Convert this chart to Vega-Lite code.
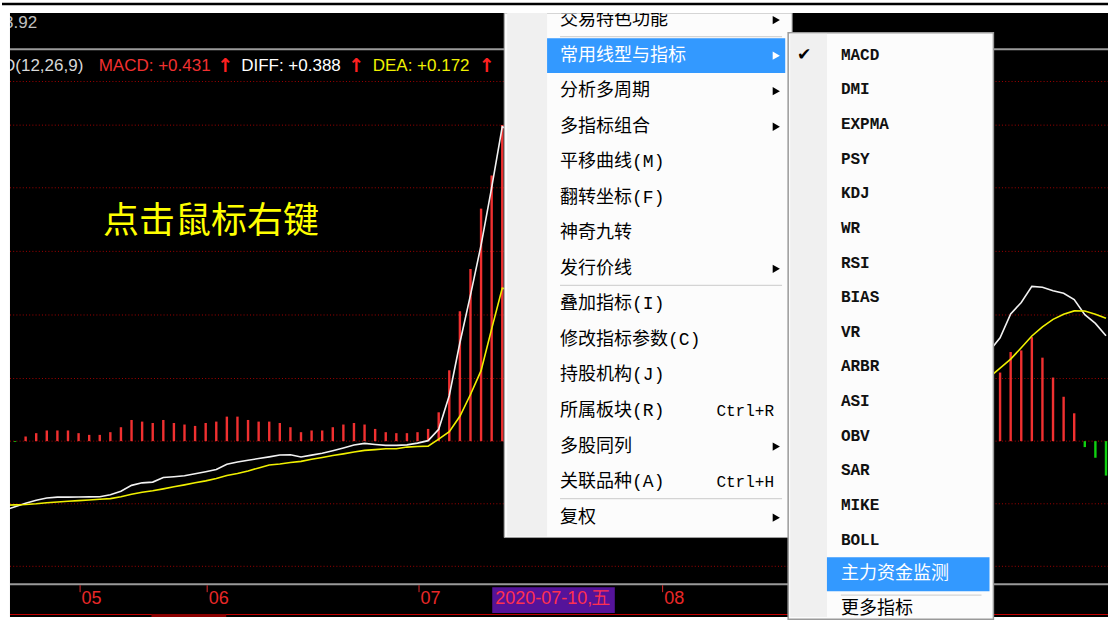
{
  "$schema": "https://vega.github.io/schema/vega-lite/v6.json",
  "width": 1110,
  "height": 621,
  "autosize": {"type": "fit", "contains": "padding"},
  "padding": 0,
  "background": "#ffffff",
  "config": {"view": {"stroke": null, "fill": "#000000"}, "axis": {"disable": true}, "text": {"font": "Liberation Sans"}},
  "datasets": {
    "macd": [
      {"i": -2, "macd": -0.001, "diff": -0.0848, "dea": -0.0787},
      {"i": -1, "macd": -0.001, "diff": -0.0805, "dea": -0.0783},
      {"i": 0, "macd": 0.0057, "diff": -0.0763, "dea": -0.0778},
      {"i": 1, "macd": 0.0098, "diff": -0.0726, "dea": -0.0769},
      {"i": 2, "macd": 0.0131, "diff": -0.0699, "dea": -0.0756},
      {"i": 3, "macd": 0.0131, "diff": -0.0687, "dea": -0.0748},
      {"i": 4, "macd": 0.0131, "diff": -0.0687, "dea": -0.0738},
      {"i": 5, "macd": 0.0098, "diff": -0.0686, "dea": -0.073},
      {"i": 6, "macd": 0.0077, "diff": -0.0684, "dea": -0.0722},
      {"i": 7, "macd": 0.0077, "diff": -0.0683, "dea": -0.0714},
      {"i": 8, "macd": 0.011, "diff": -0.0659, "dea": -0.0706},
      {"i": 9, "macd": 0.0171, "diff": -0.0616, "dea": -0.0683},
      {"i": 10, "macd": 0.026, "diff": -0.0543, "dea": -0.0653},
      {"i": 11, "macd": 0.024, "diff": -0.0512, "dea": -0.0628},
      {"i": 12, "macd": 0.0223, "diff": -0.0503, "dea": -0.061},
      {"i": 13, "macd": 0.026, "diff": -0.0447, "dea": -0.0586},
      {"i": 14, "macd": 0.0223, "diff": -0.0437, "dea": -0.0561},
      {"i": 15, "macd": 0.0204, "diff": -0.0425, "dea": -0.0537},
      {"i": 16, "macd": 0.0187, "diff": -0.04, "dea": -0.0512},
      {"i": 17, "macd": 0.0223, "diff": -0.0375, "dea": -0.0488},
      {"i": 18, "macd": 0.024, "diff": -0.0348, "dea": -0.0458},
      {"i": 19, "macd": 0.0301, "diff": -0.0284, "dea": -0.0421},
      {"i": 20, "macd": 0.0301, "diff": -0.0256, "dea": -0.0397},
      {"i": 21, "macd": 0.026, "diff": -0.0234, "dea": -0.0366},
      {"i": 22, "macd": 0.024, "diff": -0.0214, "dea": -0.0329},
      {"i": 23, "macd": 0.024, "diff": -0.0193, "dea": -0.0293},
      {"i": 24, "macd": 0.0223, "diff": -0.017, "dea": -0.0281},
      {"i": 25, "macd": 0.0171, "diff": -0.0167, "dea": -0.0262},
      {"i": 26, "macd": 0.011, "diff": -0.0195, "dea": -0.0248},
      {"i": 27, "macd": 0.0131, "diff": -0.0172, "dea": -0.0223},
      {"i": 28, "macd": 0.0131, "diff": -0.0148, "dea": -0.0201},
      {"i": 29, "macd": 0.0171, "diff": -0.0117, "dea": -0.0177},
      {"i": 30, "macd": 0.0204, "diff": -0.0084, "dea": -0.0156},
      {"i": 31, "macd": 0.0223, "diff": -0.0048, "dea": -0.0134},
      {"i": 32, "macd": 0.0204, "diff": -0.0028, "dea": -0.0113},
      {"i": 33, "macd": 0.015, "diff": -0.0041, "dea": -0.0104},
      {"i": 34, "macd": 0.011, "diff": -0.0052, "dea": -0.0094},
      {"i": 35, "macd": 0.0098, "diff": -0.0052, "dea": -0.0094},
      {"i": 36, "macd": 0.0098, "diff": -0.0046, "dea": -0.0073},
      {"i": 37, "macd": 0.011, "diff": -0.0024, "dea": -0.0065},
      {"i": 38, "macd": 0.015, "diff": 0.0006, "dea": -0.0061},
      {"i": 39, "macd": 0.0354, "diff": 0.0146, "dea": 0.0024},
      {"i": 40, "macd": 0.087, "diff": 0.0561, "dea": 0.0116},
      {"i": 41, "macd": 0.1595, "diff": 0.1208, "dea": 0.0305},
      {"i": 42, "macd": 0.2114, "diff": 0.1793, "dea": 0.0573},
      {"i": 43, "macd": 0.2855, "diff": 0.2407, "dea": 0.0866},
      {"i": 44, "macd": 0.3261, "diff": 0.3112, "dea": 0.1379},
      {"i": 45, "macd": 0.3883, "diff": 0.3861, "dea": 0.1879},
      {"i": 91, "macd": 0.065, "diff": 0.1107, "dea": 0.0787},
      {"i": 92, "macd": 0.0842, "diff": 0.1269, "dea": 0.0897},
      {"i": 93, "macd": 0.1094, "diff": 0.1562, "dea": 0.1007},
      {"i": 94, "macd": 0.1114, "diff": 0.1702, "dea": 0.1147},
      {"i": 95, "macd": 0.1277, "diff": 0.19, "dea": 0.1291},
      {"i": 96, "macd": 0.1025, "diff": 0.1889, "dea": 0.1404},
      {"i": 97, "macd": 0.0781, "diff": 0.1846, "dea": 0.1495},
      {"i": 98, "macd": 0.0545, "diff": 0.1815, "dea": 0.1558},
      {"i": 99, "macd": 0.0342, "diff": 0.1739, "dea": 0.1599},
      {"i": 100, "macd": -0.0073, "diff": 0.1553, "dea": 0.1598},
      {"i": 101, "macd": -0.0204, "diff": 0.1446, "dea": 0.1557},
      {"i": 102, "macd": -0.0423, "diff": 0.1293, "dea": 0.1509}
    ],
    "grid": [
      {"level": 0.4416}, {"level": 0.388}, {"level": 0.3111}, {"level": 0.233},
      {"level": 0.1549}, {"level": 0.0769}, {"level": 0}, {"level": -0.0769}, {"level": -0.1537}
    ],
    "months": [
      {"i": 5, "label": "05"}, {"i": 17, "label": "06"}, {"i": 37, "label": "07"}, {"i": 60, "label": "08"}
    ],
    "mainMenu": [
      {"row": 0, "label": "交易特色功能", "sub": true},
      {"row": 1, "label": "常用线型与指标", "sub": true, "hl": true},
      {"row": 2, "label": "分析多周期", "sub": true},
      {"row": 3, "label": "多指标组合", "sub": true},
      {"row": 4, "label": "平移曲线(M)"},
      {"row": 5, "label": "翻转坐标(F)"},
      {"row": 6, "label": "神奇九转"},
      {"row": 7, "label": "发行价线", "sub": true},
      {"row": 8, "label": "叠加指标(I)"},
      {"row": 9, "label": "修改指标参数(C)"},
      {"row": 10, "label": "持股机构(J)"},
      {"row": 11, "label": "所属板块(R)", "key": "Ctrl+R"},
      {"row": 12, "label": "多股同列", "sub": true},
      {"row": 13, "label": "关联品种(A)", "key": "Ctrl+H"},
      {"row": 14, "label": "复权", "sub": true}
    ],
    "mainSep": [{"after": 0}, {"after": 7}, {"after": 13}],
    "subMenu": [
      {"row": 0, "label": "MACD", "on": true},
      {"row": 1, "label": "DMI"},
      {"row": 2, "label": "EXPMA"},
      {"row": 3, "label": "PSY"},
      {"row": 4, "label": "KDJ"},
      {"row": 5, "label": "WR"},
      {"row": 6, "label": "RSI"},
      {"row": 7, "label": "BIAS"},
      {"row": 8, "label": "VR"},
      {"row": 9, "label": "ARBR"},
      {"row": 10, "label": "ASI"},
      {"row": 11, "label": "OBV"},
      {"row": 12, "label": "SAR"},
      {"row": 13, "label": "MIKE"},
      {"row": 14, "label": "BOLL"},
      {"row": 15, "label": "主力资金监测", "hl": true},
      {"row": 16, "label": "更多指标"}
    ]
  },
  "resolve": {"scale": {"x": "independent", "y": "independent"}},
  "layer": [
    {
      "layer": [
        {
          "data": {"name": "grid"},
          "mark": {"type": "rule", "color": "#a00000", "strokeWidth": 1, "strokeDash": [1, 2.2]},
          "encoding": {
            "x": {"datum": -1.477, "type": "quantitative", "scale": {"domain": [-2.23, 102.19], "nice": false, "zero": false}},
            "x2": {"datum": 102.19},
            "y": {"field": "level", "type": "quantitative", "scale": {"domain": [-0.21594, 0.54168], "nice": false, "zero": false}}
          }
        },
        {
          "data": {"name": "macd"},
          "mark": {"type": "rule", "strokeWidth": 2.4},
          "encoding": {
            "x": {"field": "i", "type": "quantitative", "scale": {"domain": [-2.23, 102.19], "nice": false, "zero": false}},
            "y": {"field": "macd", "type": "quantitative", "scale": {"domain": [-0.21594, 0.54168], "nice": false, "zero": false}},
            "y2": {"datum": 0},
            "color": {"condition": {"test": "datum.macd < 0", "value": "#10d010"}, "value": "#f03030"}
          }
        },
        {
          "data": {"name": "macd"},
          "mark": {"type": "line", "color": "#f2f2f2", "strokeWidth": 1.6},
          "encoding": {
            "x": {"field": "i", "type": "quantitative", "scale": {"domain": [-2.23, 102.19], "nice": false, "zero": false}},
            "y": {"field": "diff", "type": "quantitative", "scale": {"domain": [-0.21594, 0.54168], "nice": false, "zero": false}}
          }
        },
        {
          "data": {"name": "macd"},
          "mark": {"type": "line", "color": "#f0f000", "strokeWidth": 1.6},
          "encoding": {
            "x": {"field": "i", "type": "quantitative", "scale": {"domain": [-2.23, 102.19], "nice": false, "zero": false}},
            "y": {"field": "dea", "type": "quantitative", "scale": {"domain": [-0.21594, 0.54168], "nice": false, "zero": false}}
          }
        },
        {
          "data": {"values": [{}]},
          "mark": {"type": "rule", "color": "#9a9a9a", "strokeWidth": 2},
          "encoding": {
            "x": {"datum": -1.477, "type": "quantitative", "scale": {"domain": [-2.23, 102.19], "nice": false, "zero": false}},
            "x2": {"datum": 102.19},
            "y": {"datum": 0.4813, "type": "quantitative", "scale": {"domain": [-0.21594, 0.54168], "nice": false, "zero": false}}
          }
        },
        {
          "data": {"values": [{}]},
          "mark": {"type": "rule", "color": "#9a9a9a", "strokeWidth": 2},
          "encoding": {
            "x": {"datum": -1.477, "type": "quantitative", "scale": {"domain": [-2.23, 102.19], "nice": false, "zero": false}},
            "x2": {"datum": 102.19},
            "y": {"datum": -0.1757, "type": "quantitative", "scale": {"domain": [-0.21594, 0.54168], "nice": false, "zero": false}}
          }
        },
        {
          "data": {"values": [{}]},
          "mark": {"type": "text", "align": "left", "baseline": "middle", "font": "Liberation Sans", "fontSize": 17, "color": "#c0c0c0"},
          "encoding": {
            "x": {"datum": -2.041, "type": "quantitative", "scale": {"domain": [-2.23, 102.19], "nice": false, "zero": false}},
            "y": {"datum": 0.513, "type": "quantitative", "scale": {"domain": [-0.21594, 0.54168], "nice": false, "zero": false}},
            "text": {"value": "3.92"}
          }
        },
        {
          "data": {"values": [{}]},
          "mark": {"type": "text", "align": "left", "baseline": "middle", "font": "Liberation Sans", "fontSize": 17, "color": "#d8d8d8"},
          "encoding": {
            "x": {"datum": -2.136, "type": "quantitative", "scale": {"domain": [-2.23, 102.19], "nice": false, "zero": false}},
            "y": {"datum": 0.46116, "type": "quantitative", "scale": {"domain": [-0.21594, 0.54168], "nice": false, "zero": false}},
            "text": {"value": "D(12,26,9)"}
          }
        },
        {
          "data": {"values": [{}]},
          "mark": {"type": "text", "align": "left", "baseline": "middle", "font": "Liberation Sans", "fontSize": 17, "color": "#f03030"},
          "encoding": {
            "x": {"datum": 6.896, "type": "quantitative", "scale": {"domain": [-2.23, 102.19], "nice": false, "zero": false}},
            "y": {"datum": 0.46116, "type": "quantitative", "scale": {"domain": [-0.21594, 0.54168], "nice": false, "zero": false}},
            "text": {"value": "MACD: +0.431"}
          }
        },
        {
          "data": {"values": [{}]},
          "mark": {"type": "text", "align": "left", "baseline": "middle", "font": "Liberation Sans", "fontSize": 17, "color": "#ffffff"},
          "encoding": {
            "x": {"datum": 20.348, "type": "quantitative", "scale": {"domain": [-2.23, 102.19], "nice": false, "zero": false}},
            "y": {"datum": 0.46116, "type": "quantitative", "scale": {"domain": [-0.21594, 0.54168], "nice": false, "zero": false}},
            "text": {"value": "DIFF: +0.388"}
          }
        },
        {
          "data": {"values": [{}]},
          "mark": {"type": "text", "align": "left", "baseline": "middle", "font": "Liberation Sans", "fontSize": 17, "color": "#f0f000"},
          "encoding": {
            "x": {"datum": 32.766, "type": "quantitative", "scale": {"domain": [-2.23, 102.19], "nice": false, "zero": false}},
            "y": {"datum": 0.46116, "type": "quantitative", "scale": {"domain": [-0.21594, 0.54168], "nice": false, "zero": false}},
            "text": {"value": "DEA: +0.172"}
          }
        },
        {
          "data": {"values": [{}]},
          "mark": {"type": "text", "align": "left", "baseline": "middle", "font": "DejaVu Sans", "fontWeight": "bold", "fontSize": 19, "color": "#ff2020"},
          "encoding": {
            "x": {"datum": 18.1, "type": "quantitative", "scale": {"domain": [-2.23, 102.19], "nice": false, "zero": false}},
            "y": {"datum": 0.46116, "type": "quantitative", "scale": {"domain": [-0.21594, 0.54168], "nice": false, "zero": false}},
            "text": {"value": "↑"}
          }
        },
        {
          "data": {"values": [{}]},
          "mark": {"type": "text", "align": "left", "baseline": "middle", "font": "DejaVu Sans", "fontWeight": "bold", "fontSize": 19, "color": "#ff2020"},
          "encoding": {
            "x": {"datum": 30.45, "type": "quantitative", "scale": {"domain": [-2.23, 102.19], "nice": false, "zero": false}},
            "y": {"datum": 0.46116, "type": "quantitative", "scale": {"domain": [-0.21594, 0.54168], "nice": false, "zero": false}},
            "text": {"value": "↑"}
          }
        },
        {
          "data": {"values": [{}]},
          "mark": {"type": "text", "align": "left", "baseline": "middle", "font": "DejaVu Sans", "fontWeight": "bold", "fontSize": 19, "color": "#ff2020"},
          "encoding": {
            "x": {"datum": 42.77, "type": "quantitative", "scale": {"domain": [-2.23, 102.19], "nice": false, "zero": false}},
            "y": {"datum": 0.46116, "type": "quantitative", "scale": {"domain": [-0.21594, 0.54168], "nice": false, "zero": false}},
            "text": {"value": "↑"}
          }
        },
        {
          "data": {"values": [{}]},
          "mark": {"type": "text", "align": "left", "baseline": "middle", "font": "Noto Sans CJK SC", "fontSize": 36, "color": "#ffff00"},
          "encoding": {
            "x": {"datum": 7.3, "type": "quantitative", "scale": {"domain": [-2.23, 102.19], "nice": false, "zero": false}},
            "y": {"datum": 0.2696, "type": "quantitative", "scale": {"domain": [-0.21594, 0.54168], "nice": false, "zero": false}},
            "text": {"value": "点击鼠标右键"}
          }
        },
        {
          "data": {"name": "months"},
          "mark": {"type": "rule", "color": "#e02828", "strokeWidth": 1, "xOffset": 1.5},
          "encoding": {
            "x": {"field": "i", "type": "quantitative", "scale": {"domain": [-2.23, 102.19], "nice": false, "zero": false}},
            "y": {"datum": -0.1769, "type": "quantitative", "scale": {"domain": [-0.21594, 0.54168], "nice": false, "zero": false}},
            "y2": {"datum": -0.18544}
          }
        },
        {
          "data": {"name": "months"},
          "mark": {"type": "text", "align": "left", "baseline": "middle", "dx": 3, "font": "Liberation Sans Narrow, Liberation Sans", "fontSize": 18, "color": "#e82828"},
          "encoding": {
            "x": {"field": "i", "type": "quantitative", "scale": {"domain": [-2.23, 102.19], "nice": false, "zero": false}},
            "y": {"datum": -0.19398, "type": "quantitative", "scale": {"domain": [-0.21594, 0.54168], "nice": false, "zero": false}},
            "text": {"field": "label"}
          }
        },
        {
          "data": {"values": [{}]},
          "mark": {"type": "rect", "color": "#55139a"},
          "encoding": {
            "x": {"datum": 44.055, "type": "quantitative", "scale": {"domain": [-2.23, 102.19], "nice": false, "zero": false}},
            "x2": {"datum": 55.626},
            "y": {"datum": -0.17934, "type": "quantitative", "scale": {"domain": [-0.21594, 0.54168], "nice": false, "zero": false}},
            "y2": {"datum": -0.21106}
          }
        },
        {
          "data": {"values": [{}]},
          "mark": {"type": "text", "align": "left", "baseline": "middle", "font": "Liberation Sans Narrow, Liberation Sans", "fontSize": 18, "color": "#ff3050"},
          "encoding": {
            "x": {"datum": 44.337, "type": "quantitative", "scale": {"domain": [-2.23, 102.19], "nice": false, "zero": false}},
            "y": {"datum": -0.19398, "type": "quantitative", "scale": {"domain": [-0.21594, 0.54168], "nice": false, "zero": false}},
            "text": {"value": "2020-07-10,五"}
          }
        },
        {
          "data": {"values": [{}]},
          "mark": {"type": "rule", "color": "#c00000", "strokeWidth": 1.2},
          "encoding": {
            "x": {"datum": -1.477, "type": "quantitative", "scale": {"domain": [-2.23, 102.19], "nice": false, "zero": false}},
            "x2": {"datum": 102.19},
            "y": {"datum": -0.21289, "type": "quantitative", "scale": {"domain": [-0.21594, 0.54168], "nice": false, "zero": false}}
          }
        },
        {
          "data": {"values": [{}]},
          "mark": {"type": "rect", "color": "#8b0000"},
          "encoding": {
            "x": {"datum": 11.881, "type": "quantitative", "scale": {"domain": [-2.23, 102.19], "nice": false, "zero": false}},
            "x2": {"datum": 18.938},
            "y": {"datum": -0.21228, "type": "quantitative", "scale": {"domain": [-0.21594, 0.54168], "nice": false, "zero": false}},
            "y2": {"datum": -0.21594}
          }
        }
      ]
    },
    {
      "layer": [
        {
          "data": {"values": [{}]},
          "mark": {"type": "rect", "fill": "#fcfcfc", "stroke": "#a0a0a0", "strokeWidth": 1},
          "encoding": {
            "x": {"datum": 0, "type": "quantitative", "scale": {"domain": [-1.744, 2.097], "nice": false, "zero": false}},
            "x2": {"datum": 1},
            "y": {"datum": -0.2018, "type": "quantitative", "scale": {"domain": [-0.5656, 16.796], "nice": false, "zero": false, "reverse": true}},
            "y2": {"datum": 14.56}
          }
        },
        {
          "data": {"values": [{}]},
          "mark": {"type": "rect", "fill": "#f0f0f0"},
          "encoding": {
            "x": {"datum": 0.0104, "type": "quantitative", "scale": {"domain": [-1.744, 2.097], "nice": false, "zero": false}},
            "x2": {"datum": 0.149},
            "y": {"datum": -0.2018, "type": "quantitative", "scale": {"domain": [-0.5656, 16.796], "nice": false, "zero": false, "reverse": true}},
            "y2": {"datum": 14.53}
          }
        },
        {
          "data": {"name": "mainSep"},
          "mark": {"type": "rule", "color": "#d4d4d4", "strokeWidth": 1.2, "yOffset": 16.5},
          "encoding": {
            "x": {"datum": 0.194, "type": "quantitative", "scale": {"domain": [-1.744, 2.097], "nice": false, "zero": false}},
            "x2": {"datum": 0.965},
            "y": {"field": "after", "type": "quantitative", "scale": {"domain": [-0.5656, 16.796], "nice": false, "zero": false, "reverse": true}}
          }
        },
        {
          "data": {"values": [{}]},
          "mark": {"type": "rect", "fill": "#3399ff"},
          "encoding": {
            "x": {"datum": 0.149, "type": "quantitative", "scale": {"domain": [-1.744, 2.097], "nice": false, "zero": false}},
            "x2": {"datum": 0.976},
            "y": {"datum": 0.51, "type": "quantitative", "scale": {"domain": [-0.5656, 16.796], "nice": false, "zero": false, "reverse": true}},
            "y2": {"datum": 1.49}
          }
        },
        {
          "data": {"name": "mainMenu"},
          "mark": {"type": "text", "align": "left", "baseline": "middle", "font": "Liberation Mono, Noto Sans CJK SC", "fontSize": 18},
          "encoding": {
            "x": {"datum": 0.194, "type": "quantitative", "scale": {"domain": [-1.744, 2.097], "nice": false, "zero": false}},
            "y": {"field": "row", "type": "quantitative", "scale": {"domain": [-0.5656, 16.796], "nice": false, "zero": false, "reverse": true}},
            "text": {"field": "label"},
            "color": {"condition": {"test": "datum.hl", "value": "#ffffff"}, "value": "#000000"}
          }
        },
        {
          "data": {"name": "mainMenu"},
          "transform": [{"filter": "datum.key"}],
          "mark": {"type": "text", "align": "left", "baseline": "middle", "font": "Liberation Mono", "fontSize": 16, "color": "#000000"},
          "encoding": {
            "x": {"datum": 0.737, "type": "quantitative", "scale": {"domain": [-1.744, 2.097], "nice": false, "zero": false}},
            "y": {"field": "row", "type": "quantitative", "scale": {"domain": [-0.5656, 16.796], "nice": false, "zero": false, "reverse": true}},
            "text": {"field": "key"}
          }
        },
        {
          "data": {"name": "mainMenu"},
          "transform": [{"filter": "datum.sub"}],
          "mark": {"type": "point", "shape": "triangle-right", "filled": true, "size": 70, "opacity": 1, "strokeWidth": 0},
          "encoding": {
            "x": {"datum": 0.945, "type": "quantitative", "scale": {"domain": [-1.744, 2.097], "nice": false, "zero": false}},
            "y": {"field": "row", "type": "quantitative", "scale": {"domain": [-0.5656, 16.796], "nice": false, "zero": false, "reverse": true}},
            "color": {"condition": {"test": "datum.hl", "value": "#ffffff"}, "value": "#000000"}
          }
        }
      ]
    },
    {
      "layer": [
        {
          "data": {"values": [{}]},
          "mark": {"type": "rect", "fill": "#fcfcfc", "stroke": "#9a9a9a", "strokeWidth": 1.5},
          "encoding": {
            "x": {"datum": 0, "type": "quantitative", "scale": {"domain": [-3.8301, 1.5583], "nice": false, "zero": false}},
            "x2": {"datum": 1},
            "y": {"datum": -0.631, "type": "quantitative", "scale": {"domain": [-1.5773, 16.2323], "nice": false, "zero": false, "reverse": true}},
            "y2": {"datum": 16.3}
          }
        },
        {
          "data": {"values": [{}]},
          "mark": {"type": "rect", "fill": "#f0f0f0"},
          "encoding": {
            "x": {"datum": 0.0097, "type": "quantitative", "scale": {"domain": [-3.8301, 1.5583], "nice": false, "zero": false}},
            "x2": {"datum": 0.189},
            "y": {"datum": -0.6, "type": "quantitative", "scale": {"domain": [-1.5773, 16.2323], "nice": false, "zero": false, "reverse": true}},
            "y2": {"datum": 16.2323}
          }
        },
        {
          "data": {"values": [{}]},
          "mark": {"type": "rect", "fill": "#3399ff"},
          "encoding": {
            "x": {"datum": 0.189, "type": "quantitative", "scale": {"domain": [-3.8301, 1.5583], "nice": false, "zero": false}},
            "x2": {"datum": 0.981},
            "y": {"datum": 14.51, "type": "quantitative", "scale": {"domain": [-1.5773, 16.2323], "nice": false, "zero": false, "reverse": true}},
            "y2": {"datum": 15.49}
          }
        },
        {
          "data": {"values": [{}]},
          "mark": {"type": "rule", "color": "#d4d4d4", "strokeWidth": 1.2},
          "encoding": {
            "x": {"datum": 0.257, "type": "quantitative", "scale": {"domain": [-3.8301, 1.5583], "nice": false, "zero": false}},
            "x2": {"datum": 0.942},
            "y": {"datum": 15.6, "type": "quantitative", "scale": {"domain": [-1.5773, 16.2323], "nice": false, "zero": false, "reverse": true}}
          }
        },
        {
          "data": {"name": "subMenu"},
          "transform": [{"filter": "datum.on"}],
          "mark": {"type": "text", "align": "center", "baseline": "middle", "font": "DejaVu Sans", "fontSize": 17, "color": "#000000"},
          "encoding": {
            "x": {"datum": 0.078, "type": "quantitative", "scale": {"domain": [-3.8301, 1.5583], "nice": false, "zero": false}},
            "y": {"field": "row", "type": "quantitative", "scale": {"domain": [-1.5773, 16.2323], "nice": false, "zero": false, "reverse": true}},
            "text": {"value": "✔"}
          }
        },
        {
          "data": {"name": "subMenu"},
          "transform": [{"filter": "datum.row < 15"}],
          "mark": {"type": "text", "align": "left", "baseline": "middle", "font": "Liberation Mono", "fontWeight": "bold", "fontSize": 16, "color": "#111111"},
          "encoding": {
            "x": {"datum": 0.257, "type": "quantitative", "scale": {"domain": [-3.8301, 1.5583], "nice": false, "zero": false}},
            "y": {"field": "row", "type": "quantitative", "scale": {"domain": [-1.5773, 16.2323], "nice": false, "zero": false, "reverse": true}},
            "text": {"field": "label"}
          }
        },
        {
          "data": {"name": "subMenu"},
          "transform": [{"filter": "datum.row >= 15"}],
          "mark": {"type": "text", "align": "left", "baseline": "middle", "font": "Noto Sans CJK SC", "fontSize": 18},
          "encoding": {
            "x": {"datum": 0.257, "type": "quantitative", "scale": {"domain": [-3.8301, 1.5583], "nice": false, "zero": false}},
            "y": {"field": "row", "type": "quantitative", "scale": {"domain": [-1.5773, 16.2323], "nice": false, "zero": false, "reverse": true}},
            "text": {"field": "label"},
            "color": {"condition": {"test": "datum.hl", "value": "#ffffff"}, "value": "#000000"}
          }
        }
      ]
    },
    {
      "layer": [
        {
          "data": {"values": [{}]},
          "mark": {"type": "rect", "color": "#ffffff"},
          "encoding": {
            "x": {"datum": -2.23, "type": "quantitative", "scale": {"domain": [-2.23, 102.19], "nice": false, "zero": false}},
            "x2": {"datum": 102.19},
            "y": {"datum": 0.5258, "type": "quantitative", "scale": {"domain": [-0.21594, 0.54168], "nice": false, "zero": false}},
            "y2": {"datum": 0.54168}
          }
        },
        {
          "data": {"values": [{}]},
          "mark": {"type": "rect", "color": "#ffffff"},
          "encoding": {
            "x": {"datum": -2.23, "type": "quantitative", "scale": {"domain": [-2.23, 102.19], "nice": false, "zero": false}},
            "x2": {"datum": -1.477},
            "y": {"datum": -0.21594, "type": "quantitative", "scale": {"domain": [-0.21594, 0.54168], "nice": false, "zero": false}},
            "y2": {"datum": 0.54168}
          }
        },
        {
          "data": {"values": [{}]},
          "mark": {"type": "rule", "color": "#000000", "strokeWidth": 2.5},
          "encoding": {
            "x": {"datum": -2.23, "type": "quantitative", "scale": {"domain": [-2.23, 102.19], "nice": false, "zero": false}},
            "x2": {"datum": 102.19},
            "y": {"datum": 0.5368, "type": "quantitative", "scale": {"domain": [-0.21594, 0.54168], "nice": false, "zero": false}}
          }
        }
      ]
    }
  ]
}
